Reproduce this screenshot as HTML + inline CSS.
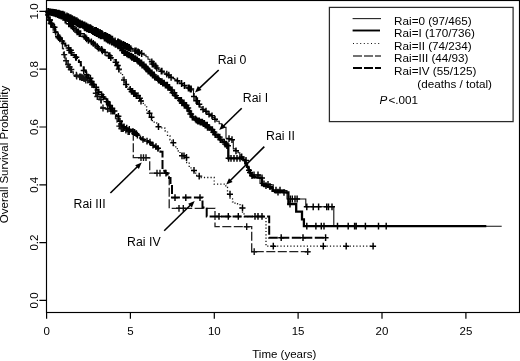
<!DOCTYPE html>
<html><head><meta charset="utf-8"><style>html,body{margin:0;padding:0;background:#fff;width:520px;height:361px;overflow:hidden}svg{display:block;font-family:"Liberation Sans",sans-serif;filter:blur(0.3px)}</style></head>
<body><svg width="520" height="361" viewBox="0 0 520 361"><rect width="520" height="361" fill="#fff"/><path d="M46.6 11.4 L46.6 11.6 L48.7 11.6 L48.7 12 L50.8 12 L50.8 12.4 L52.9 12.4 L52.9 12.8 L55 12.8 L55 13 L55 13.4 L56.8 13.4 L56.8 14.1 L58.5 14.1 L58.5 14.9 L60.2 14.9 L60.2 15.6 L62 15.6 L62 16 L62 17.4 L64 17.4 L64 20.1 L66 20.1 L66 21.5 L66 22.2 L67.8 22.2 L67.8 23.8 L69.5 23.8 L69.5 25.2 L71.2 25.2 L71.2 26.8 L73 26.8 L73 27.5 L73 28.4 L75 28.4 L75 30.1 L77 30.1 L77 31.9 L79 31.9 L79 33.6 L81 33.6 L81 34.5 L81 35.1 L82.8 35.1 L82.8 36.4 L84.5 36.4 L84.5 37.6 L86.2 37.6 L86.2 38.9 L88 38.9 L88 39.5 L88 40.2 L90 40.2 L90 41.8 L92 41.8 L92 43.2 L94 43.2 L94 44 L94 44.9 L96 44.9 L96 46.6 L98 46.6 L98 47.5 L98 48.2 L100 48.2 L100 49.5 L102 49.5 L102 50.8 L104 50.8 L104 51.5 L104 52.3 L106 52.3 L106 54 L108 54 L108 55.7 L110 55.7 L110 56.5 L110 57.7 L112.2 57.7 L112.2 60 L114.5 60 L114.5 62.3 L116.7 62.3 L116.7 63.5 L116.7 65.4 L118.8 65.4 L118.8 69.1 L120.8 69.1 L120.8 71 L120.8 73.8 L122.5 73.8 L122.5 76.7 L122.5 80 L125 80 L125 83.3 L125 84.5 L127.1 84.5 L127.1 87 L129.2 87 L129.2 88.3 L129.2 89.3 L131.2 89.3 L131.2 91.5 L133.3 91.5 L133.3 92.5 L133.3 93.5 L135.8 93.5 L135.8 95.7 L138.3 95.7 L138.3 96.7 L138.3 98.2 L140.8 98.2 L140.8 101 L143.3 101 L143.3 102.5 L143.3 104 L145 104 L145 106.8 L146.7 106.8 L146.7 108.3 L146.7 110 L148.3 110 L148.3 113.3 L150 113.3 L150 115 L150 117.2 L151.7 117.2 L151.7 119.5 L151.7 120.7 L154.2 120.7 L154.2 123 L156.7 123 L156.7 124.2 L156.7 125 L158.3 125 L158.3 126.7 L160 126.7 L160 127.5 L160 127.8 L162.5 127.8 L162.5 128.2 L165 128.2 L165 128.5 L165 130.9 L167.5 130.9 L167.5 135.9 L170 135.9 L170 138.3 L170 139.8 L171.7 139.8 L171.7 142.7 L173.3 142.7 L173.3 144.2 L173.3 145.6 L175.8 145.6 L175.8 148.6 L178.3 148.6 L178.3 150 L178.3 151.2 L180 151.2 L180 153.8 L181.7 153.8 L181.7 155 L181.7 155.8 L184.2 155.8 L184.2 157.5 L186.7 157.5 L186.7 158.3 L186.7 162.5 L189.2 162.5 L189.2 166.7 L189.2 167.9 L191.7 167.9 L191.7 170.4 L194.2 170.4 L194.2 171.7 L194.2 173.1 L196.7 173.1 L196.7 176.1 L199.2 176.1 L199.2 177.5 L214.2 177.5 L214.2 184.2 L225.8 184.2 L225.8 187.5 L227.5 187.5 L227.5 190.8 L227.5 194.2 L230 194.2 L230 197.5 L230 198.9 L232.5 198.9 L232.5 201.9 L235 201.9 L235 203.3 L235 203.7 L237.5 203.7 L237.5 204.6 L240 204.6 L240 205 L240 207.9 L242.5 207.9 L242.5 210.8 L242.5 213.8 L244 213.8 L244 216.7 L266 216.7 L266 246.2 L373.5 246.2" fill="none" stroke="#111" stroke-width="1.3" stroke-dasharray="1.2 2.1"/><path d="M52.1 13.4h6M55.1 10v6.8M56.1 14.9h6M59.1 11.5v6.8M56.2 14.9h6M59.2 11.5v6.8M56.2 14.9h6M59.2 11.5v6.8M60.6 17.4h6M63.6 14v6.8M62.2 20.1h6M65.2 16.7v6.8M62.8 20.1h6M65.8 16.7v6.8M65.7 23.8h6M68.7 20.4v6.8M66.2 23.8h6M69.2 20.4v6.8M68.1 25.2h6M71.1 21.9v6.8M69.7 26.8h6M72.7 23.4v6.8M70.7 28.4h6M73.7 25v6.8M73.2 30.1h6M76.2 26.7v6.8M74.1 31.9h6M77.1 28.5v6.8M74.6 31.9h6M77.6 28.5v6.8M75.4 31.9h6M78.4 28.5v6.8M76.3 33.6h6M79.3 30.2v6.8M76.3 33.6h6M79.3 30.2v6.8M76.6 33.6h6M79.6 30.2v6.8M77.3 33.6h6M80.3 30.2v6.8M77.6 33.6h6M80.6 30.2v6.8M81.2 36.4h6M84.2 33v6.8M82.7 37.6h6M85.7 34.2v6.8M83.6 38.9h6M86.6 35.5v6.8M83.7 38.9h6M86.7 35.5v6.8M85.4 40.2h6M88.4 36.9v6.8M85.5 40.2h6M88.5 36.9v6.8M88.4 41.8h6M91.4 38.4v6.8M90.3 43.2h6M93.3 39.9v6.8M92.1 44.9h6M95.1 41.5v6.8M94.3 46.6h6M97.3 43.2v6.8M95.4 48.2h6M98.4 44.8v6.8M98.7 49.5h6M101.7 46.1v6.8M99.4 50.8h6M102.4 47.4v6.8M102.1 52.3h6M105.1 48.9v6.8M105.6 55.7h6M108.6 52.3v6.8M106.8 55.7h6M109.8 52.3v6.8M107.8 57.7h6M110.8 54.3v6.8M112.6 62.3h6M115.6 58.9v6.8M113.2 62.3h6M116.2 58.9v6.8M114.2 65.4h6M117.2 62v6.8M114.8 65.4h6M117.8 62v6.8M115.8 69.1h6M118.8 65.7v6.8M116 69.1h6M119 65.7v6.8M121 80h6M124 76.6v6.8M122.9 84.5h6M125.9 81.1v6.8M123.3 84.5h6M126.3 81.1v6.8M127.2 89.3h6M130.2 85.9v6.8M128.6 91.5h6M131.6 88v6.8M129 91.5h6M132 88v6.8M129 91.5h6M132 88v6.8M129.6 91.5h6M132.6 88v6.8M130.7 93.5h6M133.7 90.1v6.8M130.8 93.5h6M133.8 90.1v6.8M131.5 93.5h6M134.5 90.1v6.8M132 93.5h6M135 90.1v6.8M133.3 95.7h6M136.3 92.2v6.8M135 95.7h6M138 92.2v6.8M136.7 98.2h6M139.7 94.8v6.8M136.9 98.2h6M139.9 94.8v6.8M138 101h6M141 97.6v6.8M146.5 113.3h6M149.5 109.9v6.8M148.5 117.2h6M151.5 113.8v6.8M155.5 126.7h6M158.5 123.3v6.8M170.3 142.7h6M173.3 139.3v6.8M179 155.8h6M182 152.4v6.8M181 155.8h6M184 152.4v6.8M183.5 157.5h6M186.5 154.1v6.8M191 170.4h6M194 167v6.8M196.2 176.1h6M199.2 172.7v6.8M227 194.2h6M230 190.8v6.8M239.5 207.9h6M242.5 204.5v6.8M270.3 246.2h6M273.3 242.8v6.8M320.3 246.2h6M323.3 242.8v6.8M343.2 246.2h6M346.2 242.8v6.8M370.1 246.2h6M373.1 242.8v6.8" fill="none" stroke="#000" stroke-width="1.45"/><path d="M46.6 11.4 L46.6 14.9 L48.2 14.9 L48.2 18.3 L48.2 20 L50.2 20 L50.2 23.5 L52.3 23.5 L52.3 25.2 L52.3 27.3 L55.1 27.3 L55.1 29.4 L55.1 32.2 L57.9 32.2 L57.9 35 L57.9 37.7 L60.6 37.7 L60.6 40.4 L60.6 43.2 L62.5 43.2 L62.5 46 L62.5 48.5 L63.5 48.5 L63.5 51 L63.5 54.6 L65 54.6 L65 58.3 L65 60.8 L66.7 60.8 L66.7 63.3 L66.7 64.5 L68.3 64.5 L68.3 67 L70 67 L70 68.3 L70 69.5 L71.7 69.5 L71.7 72 L73.3 72 L73.3 73.3 L73.3 73.9 L75 73.9 L75 75.2 L76.7 75.2 L76.7 75.8 L76.7 76.2 L78.9 76.2 L78.9 76.9 L81.1 76.9 L81.1 77.6 L83.3 77.6 L83.3 78 L83.3 78.8 L85.7 78.8 L85.7 80.2 L88 80.2 L88 81 L88 82.2 L90.7 82.2 L90.7 83.3 L90.7 84.5 L92.3 84.5 L92.3 87 L94 87 L94 88.3 L94 90 L95.7 90 L95.7 93.3 L97.3 93.3 L97.3 95 L97.3 96.5 L99.2 96.5 L99.2 99.5 L101.2 99.5 L101.2 101 L101.2 108 L104.7 108 L104.7 108.3 L106.6 108.3 L106.6 109 L108.4 109 L108.4 109.7 L110.3 109.7 L110.3 110 L110.3 111 L112.2 111 L112.2 113 L114 113 L114 114 L114 115.5 L115.5 115.5 L115.5 118.5 L117 118.5 L117 120 L117 122.2 L119 122.2 L119 124.4 L119 126.1 L121 126.1 L121 127.8 L121 128.6 L123.5 128.6 L123.5 130.2 L126 130.2 L126 131 L126 131.2 L127.9 131.2 L127.9 131.6 L129.8 131.6 L129.8 132 L131.7 132 L131.7 132.2 L131.7 133.6 L133.3 133.6 L133.3 135 L133.3 157.7 L149.7 157.7 L149.7 173.2 L169.2 173.2 L169.2 208.3 L215 208.3 L215 226.7 L251.7 226.7 L251.7 251.7 L310 251.7" fill="none" stroke="#222" stroke-width="1.3" stroke-dasharray="9 2.5"/><path d="M45 14.9h6M48 11.5v6.8M46.8 20h6M49.8 16.6v6.8M47.7 23.5h6M50.7 20.1v6.8M50.2 27.3h6M53.2 23.9v6.8M52.6 32.2h6M55.6 28.8v6.8M52.7 32.2h6M55.7 28.8v6.8M55.6 37.7h6M58.6 34.3v6.8M56.7 37.7h6M59.7 34.3v6.8M61.2 54.6h6M64.2 51.2v6.8M63.1 60.8h6M66.1 57.4v6.8M65.1 64.5h6M68.1 61.1v6.8M65.9 67h6M68.9 63.6v6.8M66.7 67h6M69.7 63.6v6.8M67.8 69.5h6M70.8 66.1v6.8M68.3 69.5h6M71.3 66.1v6.8M73.4 75.2h6M76.4 71.8v6.8M73.7 76.2h6M76.7 72.8v6.8M76.7 76.9h6M79.7 73.5v6.8M77.9 76.9h6M80.9 73.5v6.8M78.6 77.6h6M81.6 74.2v6.8M79.7 77.6h6M82.7 74.2v6.8M79.8 77.6h6M82.8 74.2v6.8M82.5 78.8h6M85.5 75.3v6.8M82.8 80.2h6M85.8 76.8v6.8M84.8 80.2h6M87.8 76.8v6.8M87.3 82.2h6M90.3 78.8v6.8M89 84.5h6M92 81.1v6.8M92.8 93.3h6M95.8 89.9v6.8M94.3 96.5h6M97.3 93.1v6.8M97.9 99.5h6M100.9 96.1v6.8M104.6 109h6M107.6 105.6v6.8M108 111h6M111 107.6v6.8M116.3 126.1h6M119.3 122.7v6.8M117.5 126.1h6M120.5 122.7v6.8M118.3 128.6h6M121.3 125.2v6.8M119.5 128.6h6M122.5 125.2v6.8M120.2 128.6h6M123.2 125.2v6.8M122.9 130.2h6M125.9 126.8v6.8M125.1 131.6h6M128.1 128.2v6.8M126.3 131.6h6M129.3 128.2v6.8M81 78.8h6M84 75.3v6.8M100 108h6M103 104.6v6.8M138 157.7h6M141 154.3v6.8M140.5 157.7h6M143.5 154.3v6.8M143 157.7h6M146 154.3v6.8M154 173.2h6M157 169.8v6.8M157 173.2h6M160 169.8v6.8M176 208.3h6M179 204.9v6.8M180.3 208.3h6M183.3 204.9v6.8M243.7 226.7h6M246.7 223.3v6.8M251.2 251.7h6M254.2 248.3v6.8M304.7 251.7h6M307.7 248.3v6.8" fill="none" stroke="#111" stroke-width="1.4"/><path d="M46.6 11.4 L46.6 14.9 L48.2 14.9 L48.2 18.3 L48.2 20 L50.2 20 L50.2 23.5 L52.3 23.5 L52.3 25.2 L52.3 27.3 L55.1 27.3 L55.1 29.4 L55.1 32.2 L57.9 32.2 L57.9 35 L57.9 36.4 L59.2 36.4 L59.2 37.7 L59.2 38.8 L61.2 38.8 L61.2 41.1 L63.3 41.1 L63.3 43.4 L65.3 43.4 L65.3 44.5 L65.3 45.7 L67.2 45.7 L67.2 48 L69.2 48 L69.2 50.3 L71.1 50.3 L71.1 51.5 L71.1 52.7 L73.1 52.7 L73.1 55 L75 55 L75 57.3 L77 57.3 L77 58.5 L77 59.6 L78.9 59.6 L78.9 61.9 L80.8 61.9 L80.8 63 L80.8 65.5 L83.7 65.5 L83.7 68 L83.7 70.5 L85.7 70.5 L85.7 73 L85.7 74.8 L88.1 74.8 L88.1 78.2 L90.5 78.2 L90.5 80 L90.5 81.5 L92.5 81.5 L92.5 84.5 L94.4 84.5 L94.4 86 L94.4 87.2 L96.3 87.2 L96.3 89.8 L98.3 89.8 L98.3 92.2 L100.2 92.2 L100.2 93.5 L100.2 94.6 L102.1 94.6 L102.1 96.9 L104 96.9 L104 98 L104 98.8 L106 98.8 L106 99.7 L106 101.6 L108.2 101.6 L108.2 105.4 L110.3 105.4 L110.3 107.3 L110.3 108.5 L112.3 108.5 L112.3 111 L114.4 111 L114.4 112.2 L114.4 113.6 L116.5 113.6 L116.5 116.3 L118.6 116.3 L118.6 117.7 L118.6 121.2 L121.5 121.2 L121.5 124.6 L121.5 125.3 L123.5 125.3 L123.5 126.8 L125.5 126.8 L125.5 127.5 L125.5 128.2 L127.5 128.2 L127.5 129.5 L129.6 129.5 L129.6 130.2 L129.6 130.7 L131.4 130.7 L131.4 131.6 L133.2 131.6 L133.2 132.5 L135 132.5 L135 133 L135 133.8 L136.8 133.8 L136.8 135.2 L138.5 135.2 L138.5 136.8 L140.2 136.8 L140.2 138.2 L142 138.2 L142 139 L142 139.4 L144 139.4 L144 140.2 L146 140.2 L146 141.1 L148 141.1 L148 141.5 L148 142.2 L150.1 142.2 L150.1 143.8 L152.2 143.8 L152.2 145.2 L154.2 145.2 L154.2 146.8 L156.3 146.8 L156.3 147.5 L156.3 148.3 L158.4 148.3 L158.4 150 L160.4 150 L160.4 151.7 L162.5 151.7 L162.5 152.5 L162.5 169 L162.5 170.8 L165 170.8 L165 172.5 L165 173.1 L167 173.1 L167 174.4 L169 174.4 L169 175 L169 178 L170.5 178 L170.5 181 L170.5 184.2 L172 184.2 L172 187.5 L172 197.6 L202.5 197.6 L202.5 207.5 L206.7 207.5 L206.7 216.4 L269.2 216.4 L269.2 237.7 L325.6 237.7" fill="none" stroke="#000" stroke-width="2" stroke-dasharray="9 2.5"/><path d="M46 20h6M49 16.6v6.8M47 20h6M50 16.6v6.8M48.6 23.5h6M51.6 20.1v6.8M51.5 27.3h6M54.5 23.9v6.8M55 36.4h6M58 33v6.8M55.3 36.4h6M58.3 33v6.8M56.8 38.8h6M59.8 35.4v6.8M59.2 41.1h6M62.2 37.7v6.8M65.6 48h6M68.6 44.6v6.8M66.4 50.3h6M69.4 46.9v6.8M66.6 50.3h6M69.6 46.9v6.8M67.7 50.3h6M70.7 46.9v6.8M67.9 50.3h6M70.9 46.9v6.8M68.2 52.7h6M71.2 49.3v6.8M68.7 52.7h6M71.7 49.3v6.8M72.7 57.3h6M75.7 53.9v6.8M72.9 57.3h6M75.9 53.9v6.8M73.3 57.3h6M76.3 53.9v6.8M80.7 70.5h6M83.7 67.1v6.8M83.6 74.8h6M86.6 71.3v6.8M87.1 78.2h6M90.1 74.8v6.8M87.4 78.2h6M90.4 74.8v6.8M88.7 81.5h6M91.7 78.1v6.8M90.8 84.5h6M93.8 81.1v6.8M93.1 87.2h6M96.1 83.8v6.8M93.2 87.2h6M96.2 83.8v6.8M95.7 92.2h6M98.7 88.8v6.8M98.6 94.6h6M101.6 91.2v6.8M100.3 96.9h6M103.3 93.5v6.8M103.5 101.6h6M106.5 98.2v6.8M104.3 101.6h6M107.3 98.2v6.8M104.4 101.6h6M107.4 98.2v6.8M104.6 101.6h6M107.6 98.2v6.8M106.4 105.4h6M109.4 102v6.8M107.1 105.4h6M110.1 102v6.8M107.8 108.5h6M110.8 105.1v6.8M109.3 108.5h6M112.3 105.1v6.8M109.8 111h6M112.8 107.6v6.8M111.4 111h6M114.4 107.6v6.8M115.4 116.3h6M118.4 112.9v6.8M117 121.2h6M120 117.8v6.8M121 126.8h6M124 123.4v6.8M123.7 128.2h6M126.7 124.8v6.8M126.3 129.5h6M129.3 126.1v6.8M129.6 131.6h6M132.6 128.2v6.8M130.1 131.6h6M133.1 128.2v6.8M131.6 132.5h6M134.6 129.1v6.8M133.2 133.8h6M136.2 130.3v6.8M133.4 133.8h6M136.4 130.3v6.8M134.4 135.2h6M137.4 131.8v6.8M140 139.4h6M143 136v6.8M144 141.1h6M147 137.7v6.8M147 142.2h6M150 138.8v6.8M150 145.2h6M153 141.8v6.8M153 146.8h6M156 143.3v6.8M155 148.3h6M158 144.9v6.8M163 173.1h6M166 169.7v6.8M172 197.6h6M175 194.2v6.8M182.8 197.6h6M185.8 194.2v6.8M197 197.6h6M200 194.2v6.8M216 216.4h6M219 213v6.8M225.3 216.4h6M228.3 213v6.8M235.3 216.4h6M238.3 213v6.8M252 216.4h6M255 213v6.8M255 216.4h6M258 213v6.8M259 216.4h6M262 213v6.8M278.2 237.7h6M281.2 234.3v6.8M300 237.7h6M303 234.3v6.8M322.6 237.7h6M325.6 234.3v6.8" fill="none" stroke="#000" stroke-width="1.45"/><path d="M46.6 11.4 L46.6 11.5 L48.7 11.5 L48.7 11.8 L50.8 11.8 L50.8 12.1 L52.9 12.1 L52.9 12.4 L55 12.4 L55 12.5 L55 12.8 L57 12.8 L57 13.2 L59 13.2 L59 13.8 L61 13.8 L61 14.2 L63 14.2 L63 14.5 L63 14.9 L65 14.9 L65 15.8 L67 15.8 L67 16.8 L69 16.8 L69 17.6 L71 17.6 L71 18.6 L73 18.6 L73 19 L73 19.6 L75 19.6 L75 20.6 L77 20.6 L77 21.8 L79 21.8 L79 22.9 L81 22.9 L81 23.9 L83 23.9 L83 24.5 L83 24.9 L84.9 24.9 L84.9 25.9 L86.8 25.9 L86.8 26.8 L88.7 26.8 L88.7 27.6 L90.6 27.6 L90.6 28.6 L92.5 28.6 L92.5 29 L92.5 29.5 L94.4 29.5 L94.4 30.5 L96.3 30.5 L96.3 31.5 L98.2 31.5 L98.2 32.5 L100.2 32.5 L100.2 33.5 L102.1 33.5 L102.1 34.5 L104 34.5 L104 35 L104 35.5 L105.8 35.5 L105.8 36.4 L107.7 36.4 L107.7 37.3 L109.5 37.3 L109.5 38.2 L111.3 38.2 L111.3 39.1 L113.2 39.1 L113.2 40 L115 40 L115 40.5 L115 40.9 L116.8 40.9 L116.8 41.8 L118.5 41.8 L118.5 42.7 L120.2 42.7 L120.2 43.6 L122 43.6 L122 44 L122 44.5 L124 44.5 L124 45.5 L126 45.5 L126 46.5 L128 46.5 L128 47.5 L130 47.5 L130 48 L130 48.6 L132.2 48.6 L132.2 49.8 L134.5 49.8 L134.5 50.9 L136.7 50.9 L136.7 51.5 L136.7 51.9 L138.6 51.9 L138.6 52.7 L140.4 52.7 L140.4 53.5 L142.3 53.5 L142.3 54.3 L144.1 54.3 L144.1 55.1 L146 55.1 L146 55.5 L146 56.8 L148 56.8 L148 59.2 L150 59.2 L150 61.8 L152 61.8 L152 63 L152 64 L154.1 64 L154.1 66 L156.2 66 L156.2 68 L158.3 68 L158.3 69 L158.3 69.8 L160.5 69.8 L160.5 71.2 L162.8 71.2 L162.8 72.8 L165 72.8 L165 73.5 L165 74.1 L167 74.1 L167 75.2 L169 75.2 L169 76.3 L171 76.3 L171 77.4 L173 77.4 L173 78 L173 78.6 L174.8 78.6 L174.8 79.7 L176.5 79.7 L176.5 80.8 L178.2 80.8 L178.2 81.9 L180 81.9 L180 82.5 L180 83.5 L182.5 83.5 L182.5 85.5 L185 85.5 L185 86.5 L185 87 L187.1 87 L187.1 88 L189.2 88 L189.2 89 L191.4 89 L191.4 90 L193.5 90 L193.5 90.5 L193.5 94 L193.5 96.5 L196 96.5 L196 99 L196 100.8 L198 100.8 L198 104.2 L200 104.2 L200 106 L200 107.1 L202 107.1 L202 109.4 L204 109.4 L204 110.5 L204 111.2 L206 111.2 L206 112.8 L208 112.8 L208 114.2 L210 114.2 L210 115 L210 115.8 L212.2 115.8 L212.2 117.5 L214.5 117.5 L214.5 119.2 L216.7 119.2 L216.7 120 L216.7 121.2 L219.2 121.2 L219.2 123.8 L221.7 123.8 L221.7 125 L221.7 125.8 L223.8 125.8 L223.8 127.2 L226 127.2 L226 128 L226 138 L226 138.2 L227.8 138.2 L227.8 138.8 L229.7 138.8 L229.7 139.2 L231.5 139.2 L231.5 139.8 L233.3 139.8 L233.3 140 L233.3 148 L233.3 148.9 L235.7 148.9 L235.7 150.8 L238 150.8 L238 151.7 L238 152.8 L239.8 152.8 L239.8 154.8 L241.5 154.8 L241.5 156.9 L243.3 156.9 L243.3 158 L243.3 160.5 L246 160.5 L246 163 L246 164.8 L247.5 164.8 L247.5 168.2 L249 168.2 L249 170 L249 172.5 L251 172.5 L251 175 L260 175 L260 183.3 L260 183.4 L261.9 183.4 L261.9 183.7 L263.8 183.7 L263.8 183.9 L265.7 183.9 L265.7 184.2 L267.6 184.2 L267.6 184.4 L269.5 184.4 L269.5 184.6 L271.4 184.6 L271.4 184.9 L273.3 184.9 L273.3 185 L273.3 190 L273.3 190 L275.3 190 L275.3 190.1 L277.2 190.1 L277.2 190.2 L279.2 190.2 L279.2 190.2 L281.1 190.2 L281.1 190.3 L283.1 190.3 L283.1 190.4 L285 190.4 L285 190.5 L287 190.5 L287 190.5 L287 199 L305.8 199 L305.8 206.8 L333.8 206.8 L333.8 226.2 L501.7 226.2" fill="none" stroke="#111" stroke-width="1.1"/><path d="M45 11.5h6M48 8.1v6.8M45.4 11.5h6M48.4 8.1v6.8M47.1 11.8h6M50.1 8.4v6.8M47.1 11.8h6M50.1 8.4v6.8M47.3 11.8h6M50.3 8.4v6.8M47.5 11.8h6M50.5 8.4v6.8M48.4 12.1h6M51.4 8.7v6.8M48.6 12.1h6M51.6 8.7v6.8M49.3 12.1h6M52.3 8.7v6.8M49.8 12.1h6M52.8 8.7v6.8M50 12.4h6M53 9v6.8M50.3 12.4h6M53.3 9v6.8M50.4 12.4h6M53.4 9v6.8M50.5 12.4h6M53.5 9v6.8M50.6 12.4h6M53.6 9v6.8M50.7 12.4h6M53.7 9v6.8M50.8 12.4h6M53.8 9v6.8M51.2 12.4h6M54.2 9v6.8M51.4 12.4h6M54.4 9v6.8M51.7 12.4h6M54.7 9v6.8M52.4 12.8h6M55.4 9.3v6.8M52.9 12.8h6M55.9 9.3v6.8M53.3 12.8h6M56.3 9.3v6.8M54.3 13.2h6M57.3 9.8v6.8M54.4 13.2h6M57.4 9.8v6.8M54.5 13.2h6M57.5 9.8v6.8M55.8 13.2h6M58.8 9.8v6.8M55.8 13.2h6M58.8 9.8v6.8M55.9 13.2h6M58.9 9.8v6.8M56.3 13.8h6M59.3 10.3v6.8M56.4 13.8h6M59.4 10.3v6.8M56.9 13.8h6M59.9 10.3v6.8M58.3 14.2h6M61.3 10.8v6.8M58.5 14.2h6M61.5 10.8v6.8M58.7 14.2h6M61.7 10.8v6.8M58.9 14.2h6M61.9 10.8v6.8M58.9 14.2h6M61.9 10.8v6.8M58.9 14.2h6M61.9 10.8v6.8M59 14.2h6M62 10.8v6.8M59.9 14.2h6M62.9 10.8v6.8M59.9 14.2h6M62.9 10.8v6.8M60.4 14.9h6M63.4 11.5v6.8M60.5 14.9h6M63.5 11.5v6.8M61.2 14.9h6M64.2 11.5v6.8M61.6 14.9h6M64.6 11.5v6.8M63.9 15.8h6M66.9 12.4v6.8M64.2 16.8h6M67.2 13.3v6.8M65.5 16.8h6M68.5 13.3v6.8M65.5 16.8h6M68.5 13.3v6.8M66.3 17.6h6M69.3 14.2v6.8M66.5 17.6h6M69.5 14.2v6.8M67.5 17.6h6M70.5 14.2v6.8M67.8 17.6h6M70.8 14.2v6.8M68.2 18.6h6M71.2 15.2v6.8M69 18.6h6M72 15.2v6.8M69.2 18.6h6M72.2 15.2v6.8M69.4 18.6h6M72.4 15.2v6.8M70.6 19.6h6M73.6 16.2v6.8M71.2 19.6h6M74.2 16.2v6.8M71.5 19.6h6M74.5 16.2v6.8M71.6 19.6h6M74.6 16.2v6.8M72.6 20.6h6M75.6 17.2v6.8M73.4 20.6h6M76.4 17.2v6.8M73.9 20.6h6M76.9 17.2v6.8M73.9 20.6h6M76.9 17.2v6.8M74.8 21.8h6M77.8 18.4v6.8M75.3 21.8h6M78.3 18.4v6.8M76.3 22.9h6M79.3 19.5v6.8M76.5 22.9h6M79.5 19.5v6.8M77 22.9h6M80 19.5v6.8M78 23.9h6M81 20.6v6.8M78.5 23.9h6M81.5 20.6v6.8M78.5 23.9h6M81.5 20.6v6.8M78.6 23.9h6M81.6 20.6v6.8M78.7 23.9h6M81.7 20.6v6.8M79 23.9h6M82 20.6v6.8M79.3 23.9h6M82.3 20.6v6.8M80.5 24.9h6M83.5 21.6v6.8M81 24.9h6M84 21.6v6.8M81.1 24.9h6M84.1 21.6v6.8M81.5 24.9h6M84.5 21.6v6.8M81.7 24.9h6M84.7 21.6v6.8M83.2 25.9h6M86.2 22.5v6.8M83.5 25.9h6M86.5 22.5v6.8M83.5 25.9h6M86.5 22.5v6.8M84.1 26.8h6M87.1 23.4v6.8M84.3 26.8h6M87.3 23.4v6.8M84.9 26.8h6M87.9 23.4v6.8M86.3 27.6h6M89.3 24.2v6.8M86.7 27.6h6M89.7 24.2v6.8M87 27.6h6M90 24.2v6.8M87.5 27.6h6M90.5 24.2v6.8M87.9 28.6h6M90.9 25.2v6.8M88.6 28.6h6M91.6 25.2v6.8M89.5 29.5h6M92.5 26.1v6.8M89.6 29.5h6M92.6 26.1v6.8M90 29.5h6M93 26.1v6.8M91.7 30.5h6M94.7 27.1v6.8M92.4 30.5h6M95.4 27.1v6.8M93.3 30.5h6M96.3 27.1v6.8M93.6 31.5h6M96.6 28.1v6.8M93.6 31.5h6M96.6 28.1v6.8M94 31.5h6M97 28.1v6.8M94.3 31.5h6M97.3 28.1v6.8M95 31.5h6M98 28.1v6.8M95.4 32.5h6M98.4 29.1v6.8M95.5 32.5h6M98.5 29.1v6.8M97.1 32.5h6M100.1 29.1v6.8M97.7 33.5h6M100.7 30.1v6.8M97.8 33.5h6M100.8 30.1v6.8M98.1 33.5h6M101.1 30.1v6.8M98.4 33.5h6M101.4 30.1v6.8M98.5 33.5h6M101.5 30.1v6.8M98.9 33.5h6M101.9 30.1v6.8M99.2 34.5h6M102.2 31.1v6.8M99.7 34.5h6M102.7 31.1v6.8M101.5 35.5h6M104.5 32.1v6.8M101.8 35.5h6M104.8 32.1v6.8M102.7 35.5h6M105.7 32.1v6.8M103.4 36.4h6M106.4 33v6.8M103.8 36.4h6M106.8 33v6.8M104.5 36.4h6M107.5 33v6.8M104.9 37.3h6M107.9 33.9v6.8M106.1 37.3h6M109.1 33.9v6.8M106.5 37.3h6M109.5 33.9v6.8M106.5 38.2h6M109.5 34.8v6.8M107.2 38.2h6M110.2 34.8v6.8M107.6 38.2h6M110.6 34.8v6.8M108.5 39.1h6M111.5 35.7v6.8M109 39.1h6M112 35.7v6.8M109.1 39.1h6M112.1 35.7v6.8M109.3 39.1h6M112.3 35.7v6.8M109.5 39.1h6M112.5 35.7v6.8M112.1 40.9h6M115.1 37.5v6.8M114.7 41.8h6M117.7 38.4v6.8M115.3 41.8h6M118.3 38.4v6.8M115.7 42.7h6M118.7 39.3v6.8M116 42.7h6M119 39.3v6.8M116.7 42.7h6M119.7 39.3v6.8M116.8 42.7h6M119.8 39.3v6.8M118.1 43.6h6M121.1 40.2v6.8M118.4 43.6h6M121.4 40.2v6.8M120.1 44.5h6M123.1 41.1v6.8M120.4 44.5h6M123.4 41.1v6.8M120.6 44.5h6M123.6 41.1v6.8M121.1 45.5h6M124.1 42.1v6.8M121.3 45.5h6M124.3 42.1v6.8M122.3 45.5h6M125.3 42.1v6.8M123.1 46.5h6M126.1 43.1v6.8M124 46.5h6M127 43.1v6.8M124.4 46.5h6M127.4 43.1v6.8M124.5 46.5h6M127.5 43.1v6.8M125.2 47.5h6M128.2 44.1v6.8M125.4 47.5h6M128.4 44.1v6.8M125.5 47.5h6M128.5 44.1v6.8M125.5 47.5h6M128.5 44.1v6.8M125.5 47.5h6M128.5 44.1v6.8M126.3 47.5h6M129.3 44.1v6.8M126.3 47.5h6M129.3 44.1v6.8M127.8 48.6h6M130.8 45.2v6.8M131.9 50.9h6M134.9 47.5v6.8M132.2 50.9h6M135.2 47.5v6.8M132.5 50.9h6M135.5 47.5v6.8M132.7 50.9h6M135.7 47.5v6.8M133.1 50.9h6M136.1 47.5v6.8M134.8 51.9h6M137.8 48.5v6.8M135 51.9h6M138 48.5v6.8M135.2 51.9h6M138.2 48.5v6.8M136.4 52.7h6M139.4 49.3v6.8M136.4 52.7h6M139.4 49.3v6.8M138.7 53.5h6M141.7 50.1v6.8M138.7 53.5h6M141.7 50.1v6.8M148.8 61.8h6M151.8 58.4v6.8M149.3 64h6M152.3 60.6v6.8M150.2 64h6M153.2 60.6v6.8M150.6 64h6M153.6 60.6v6.8M150.6 64h6M153.6 60.6v6.8M152.6 66h6M155.6 62.6v6.8M153.8 68h6M156.8 64.6v6.8M158.3 71.2h6M161.3 67.8v6.8M158.9 71.2h6M161.9 67.8v6.8M163.8 74.1h6M166.8 70.7v6.8M165.8 75.2h6M168.8 71.8v6.8M168.1 77.4h6M171.1 74v6.8M174.4 80.8h6M177.4 77.4v6.8M178.6 83.5h6M181.6 80.1v6.8M181.4 85.5h6M184.4 82.1v6.8M185.4 88h6M188.4 84.6v6.8M185.7 88h6M188.7 84.6v6.8M186.1 88h6M189.1 84.6v6.8M187.4 89h6M190.4 85.6v6.8M188.2 89h6M191.2 85.6v6.8M191 96.5h6M194 93.1v6.8M193.2 100.8h6M196.2 97.3v6.8M194.3 100.8h6M197.3 97.3v6.8M194.4 100.8h6M197.4 97.3v6.8M196.1 104.2h6M199.1 100.8v6.8M196.3 104.2h6M199.3 100.8v6.8M200 109.4h6M203 106v6.8M203 111.2h6M206 107.8v6.8M206 114.2h6M209 110.8v6.8M209 115.8h6M212 112.4v6.8M212 119.2h6M215 115.8v6.8M226 138.8h6M229 135.3v6.8M229 139.8h6M232 136.3v6.8M233 150.8h6M236 147.4v6.8M238.7 156.9h6M241.7 153.5v6.8M243 160.5h6M246 157.1v6.8M247 172.5h6M250 169.1v6.8M251 175h6M254 171.6v6.8M255 175h6M258 171.6v6.8M261 183.9h6M264 180.5v6.8M265 184.4h6M268 181v6.8M273 190.1h6M276 186.7v6.8M277 190.2h6M280 186.8v6.8M287.3 199h6M290.3 195.6v6.8M289.3 199h6M292.3 195.6v6.8M292 199h6M295 195.6v6.8M294.1 199h6M297.1 195.6v6.8M303.8 206.8h6M306.8 203.4v6.8M310.2 206.8h6M313.2 203.4v6.8M315.6 206.8h6M318.6 203.4v6.8M323.7 206.8h6M326.7 203.4v6.8M325.5 206.8h6M328.5 203.4v6.8M329 206.8h6M332 203.4v6.8M334.5 226.2h6M337.5 222.8v6.8M345.2 226.2h6M348.2 222.8v6.8M351.6 226.2h6M354.6 222.8v6.8M353.2 226.2h6M356.2 222.8v6.8M362.4 226.2h6M365.4 222.8v6.8M375.5 226.2h6M378.5 222.8v6.8M383.2 226.2h6M386.2 222.8v6.8" fill="none" stroke="#000" stroke-width="1.45"/><path d="M46.6 11.4 L46.6 11.7 L48.7 11.7 L48.7 12.2 L50.8 12.2 L50.8 12.7 L52.9 12.7 L52.9 13.2 L55 13.2 L55 13.5 L55 13.9 L57 13.9 L57 14.6 L59 14.6 L59 15.4 L61 15.4 L61 16.1 L63 16.1 L63 16.5 L63 16.9 L65 16.9 L65 17.9 L67 17.9 L67 18.8 L69 18.8 L69 19.6 L71 19.6 L71 20.6 L73 20.6 L73 21 L73 21.6 L75 21.6 L75 22.6 L77 22.6 L77 23.8 L79 23.8 L79 24.9 L81 24.9 L81 25.9 L83 25.9 L83 26.5 L83 26.9 L84.9 26.9 L84.9 27.9 L86.8 27.9 L86.8 28.8 L88.7 28.8 L88.7 29.6 L90.6 29.6 L90.6 30.6 L92.5 30.6 L92.5 31 L92.5 31.5 L94.4 31.5 L94.4 32.6 L96.3 32.6 L96.3 33.7 L98.2 33.7 L98.2 34.8 L100.2 34.8 L100.2 35.9 L102.1 35.9 L102.1 37 L104 37 L104 37.5 L104 38 L105.8 38 L105.8 39 L107.7 39 L107.7 40 L109.5 40 L109.5 41 L111.3 41 L111.3 42 L113.2 42 L113.2 43 L115 43 L115 43.5 L115 44.2 L117.5 44.2 L117.5 45.8 L120 45.8 L120 46.5 L120 47.9 L122 47.9 L122 50.6 L124 50.6 L124 52 L124 52.6 L125.9 52.6 L125.9 53.8 L127.8 53.8 L127.8 54.9 L129.8 54.9 L129.8 56.1 L131.7 56.1 L131.7 56.7 L131.7 57.4 L133.8 57.4 L133.8 58.7 L135.8 58.7 L135.8 60 L137.9 60 L137.9 61.3 L140 61.3 L140 62 L140 63 L142 63 L142 65 L144 65 L144 67 L146 67 L146 69 L148 69 L148 70 L148 71 L150.2 71 L150.2 73 L152.3 73 L152.3 75 L154.5 75 L154.5 77 L156.7 77 L156.7 78 L156.7 78.8 L158.3 78.8 L158.3 80.2 L160 80.2 L160 81 L160 81.8 L162.5 81.8 L162.5 83.2 L165 83.2 L165 84 L165 85.1 L167.5 85.1 L167.5 87.4 L170 87.4 L170 88.5 L170 89.9 L172.2 89.9 L172.2 92.8 L174.5 92.8 L174.5 95.6 L176.7 95.6 L176.7 97 L176.7 98.2 L179.2 98.2 L179.2 100.5 L181.7 100.5 L181.7 101.7 L181.7 102.9 L184.2 102.9 L184.2 105.3 L186.7 105.3 L186.7 106.5 L186.7 108 L188.3 108 L188.3 111 L190 111 L190 112.5 L190 114 L191.7 114 L191.7 117 L193.3 117 L193.3 118.5 L193.3 119 L195.5 119 L195.5 120 L197.8 120 L197.8 121 L200 121 L200 121.5 L200 122.2 L202.5 122.2 L202.5 123.5 L205 123.5 L205 124.2 L205 125.2 L207.5 125.2 L207.5 127.3 L210 127.3 L210 128.3 L210 129.6 L212.5 129.6 L212.5 132.1 L215 132.1 L215 133.3 L215 134.6 L217.5 134.6 L217.5 137.1 L220 137.1 L220 138.3 L220 139.6 L222.5 139.6 L222.5 142.1 L225 142.1 L225 143.3 L225 144.1 L226.7 144.1 L226.7 145.7 L228.3 145.7 L228.3 146.5 L228.3 158.3 L243.3 158.3 L243.3 160 L245.2 160 L245.2 163.3 L247 163.3 L247 165 L247 166.8 L248.5 166.8 L248.5 170.2 L250 170.2 L250 172 L250 173.2 L251.5 173.2 L251.5 175.8 L253 175.8 L253 177 L253 177.1 L255.2 177.1 L255.2 177.4 L257.5 177.4 L257.5 177.6 L259.8 177.6 L259.8 177.9 L262 177.9 L262 178 L262 185 L262 185.2 L264 185.2 L264 185.8 L266 185.8 L266 186.2 L268 186.2 L268 186.8 L270 186.8 L270 187 L270 188.2 L272.5 188.2 L272.5 190.8 L275 190.8 L275 192 L275 192 L276.9 192 L276.9 192.1 L278.8 192.1 L278.8 192.2 L280.7 192.2 L280.7 192.2 L282.7 192.2 L282.7 192.3 L284.6 192.3 L284.6 192.4 L286.5 192.4 L286.5 192.5 L288.4 192.5 L288.4 192.5 L288.4 204 L296.2 204 L296.2 211.6 L302 211.6 L302 219.4 L303.9 219.4 L303.9 226.2 L486.3 226.2" fill="none" stroke="#000" stroke-width="2.3"/><path d="M45.4 11.7h6M48.4 8.3v6.8M46.3 12.2h6M49.3 8.8v6.8M46.4 12.2h6M49.4 8.8v6.8M46.7 12.2h6M49.7 8.8v6.8M46.7 12.2h6M49.7 8.8v6.8M46.7 12.2h6M49.7 8.8v6.8M46.8 12.2h6M49.8 8.8v6.8M48.6 12.7h6M51.6 9.3v6.8M49.6 12.7h6M52.6 9.3v6.8M50.3 13.2h6M53.3 9.8v6.8M50.9 13.2h6M53.9 9.8v6.8M51.1 13.2h6M54.1 9.8v6.8M51.7 13.2h6M54.7 9.8v6.8M51.7 13.2h6M54.7 9.8v6.8M51.7 13.2h6M54.7 9.8v6.8M52.7 13.9h6M55.7 10.5v6.8M52.8 13.9h6M55.8 10.5v6.8M53.2 13.9h6M56.2 10.5v6.8M54.6 14.6h6M57.6 11.2v6.8M54.8 14.6h6M57.8 11.2v6.8M54.8 14.6h6M57.8 11.2v6.8M55.1 14.6h6M58.1 11.2v6.8M56.2 15.4h6M59.2 12v6.8M56.7 15.4h6M59.7 12v6.8M56.9 15.4h6M59.9 12v6.8M56.9 15.4h6M59.9 12v6.8M57.1 15.4h6M60.1 12v6.8M57.1 15.4h6M60.1 12v6.8M57.6 15.4h6M60.6 12v6.8M58.2 16.1h6M61.2 12.7v6.8M58.4 16.1h6M61.4 12.7v6.8M58.7 16.1h6M61.7 12.7v6.8M58.9 16.1h6M61.9 12.7v6.8M59.2 16.1h6M62.2 12.7v6.8M59.9 16.1h6M62.9 12.7v6.8M59.9 16.1h6M62.9 12.7v6.8M60.6 16.9h6M63.6 13.5v6.8M60.9 16.9h6M63.9 13.5v6.8M61.4 16.9h6M64.4 13.5v6.8M61.4 16.9h6M64.4 13.5v6.8M61.8 16.9h6M64.8 13.5v6.8M62.4 17.9h6M65.4 14.5v6.8M63 17.9h6M66 14.5v6.8M63.6 17.9h6M66.6 14.5v6.8M64.4 18.8h6M67.4 15.3v6.8M65.2 18.8h6M68.2 15.3v6.8M66.9 19.6h6M69.9 16.2v6.8M67.1 19.6h6M70.1 16.2v6.8M67.1 19.6h6M70.1 16.2v6.8M67.9 19.6h6M70.9 16.2v6.8M68 20.6h6M71 17.2v6.8M68.2 20.6h6M71.2 17.2v6.8M68.8 20.6h6M71.8 17.2v6.8M68.9 20.6h6M71.9 17.2v6.8M68.9 20.6h6M71.9 17.2v6.8M69.4 20.6h6M72.4 17.2v6.8M69.6 20.6h6M72.6 17.2v6.8M69.9 20.6h6M72.9 17.2v6.8M70.5 21.6h6M73.5 18.2v6.8M71.7 21.6h6M74.7 18.2v6.8M72 21.6h6M75 18.2v6.8M73.1 22.6h6M76.1 19.2v6.8M73.7 22.6h6M76.7 19.2v6.8M74.3 23.8h6M77.3 20.4v6.8M75 23.8h6M78 20.4v6.8M75.5 23.8h6M78.5 20.4v6.8M75.6 23.8h6M78.6 20.4v6.8M76.2 24.9h6M79.2 21.5v6.8M76.2 24.9h6M79.2 21.5v6.8M76.5 24.9h6M79.5 21.5v6.8M76.9 24.9h6M79.9 21.5v6.8M77 24.9h6M80 21.5v6.8M77.2 24.9h6M80.2 21.5v6.8M77.5 24.9h6M80.5 21.5v6.8M81.2 26.9h6M84.2 23.6v6.8M81.4 26.9h6M84.4 23.6v6.8M81.6 26.9h6M84.6 23.6v6.8M81.9 27.9h6M84.9 24.5v6.8M82.2 27.9h6M85.2 24.5v6.8M83.5 27.9h6M86.5 24.5v6.8M83.7 27.9h6M86.7 24.5v6.8M83.8 28.8h6M86.8 25.4v6.8M84.1 28.8h6M87.1 25.4v6.8M84.7 28.8h6M87.7 25.4v6.8M84.8 28.8h6M87.8 25.4v6.8M84.9 28.8h6M87.9 25.4v6.8M85.5 28.8h6M88.5 25.4v6.8M85.5 28.8h6M88.5 25.4v6.8M85.7 28.8h6M88.7 25.4v6.8M85.8 29.6h6M88.8 26.2v6.8M86.6 29.6h6M89.6 26.2v6.8M86.7 29.6h6M89.7 26.2v6.8M87.2 29.6h6M90.2 26.2v6.8M88.6 30.6h6M91.6 27.2v6.8M88.7 30.6h6M91.7 27.2v6.8M89 30.6h6M92 27.2v6.8M89 30.6h6M92 27.2v6.8M89.8 31.5h6M92.8 28.1v6.8M90.5 31.5h6M93.5 28.1v6.8M91 31.5h6M94 28.1v6.8M91.2 31.5h6M94.2 28.1v6.8M91.5 32.6h6M94.5 29.2v6.8M91.6 32.6h6M94.6 29.2v6.8M91.7 32.6h6M94.7 29.2v6.8M92.1 32.6h6M95.1 29.2v6.8M92.1 32.6h6M95.1 29.2v6.8M92.4 32.6h6M95.4 29.2v6.8M92.7 32.6h6M95.7 29.2v6.8M93.2 32.6h6M96.2 29.2v6.8M93.4 33.7h6M96.4 30.3v6.8M93.5 33.7h6M96.5 30.3v6.8M93.9 33.7h6M96.9 30.3v6.8M94.1 33.7h6M97.1 30.3v6.8M95.5 34.8h6M98.5 31.4v6.8M95.7 34.8h6M98.7 31.4v6.8M95.9 34.8h6M98.9 31.4v6.8M96 34.8h6M99 31.4v6.8M96.1 34.8h6M99.1 31.4v6.8M96.2 34.8h6M99.2 31.4v6.8M96.5 34.8h6M99.5 31.4v6.8M96.5 34.8h6M99.5 31.4v6.8M96.7 34.8h6M99.7 31.4v6.8M97.5 35.9h6M100.5 32.5v6.8M98.7 35.9h6M101.7 32.5v6.8M99 35.9h6M102 32.5v6.8M101.4 38h6M104.4 34.6v6.8M102.4 38h6M105.4 34.6v6.8M103.4 39h6M106.4 35.6v6.8M103.5 39h6M106.5 35.6v6.8M104.8 40h6M107.8 36.6v6.8M105.1 40h6M108.1 36.6v6.8M105.5 40h6M108.5 36.6v6.8M105.7 40h6M108.7 36.6v6.8M105.8 40h6M108.8 36.6v6.8M106.6 41h6M109.6 37.6v6.8M108.3 41h6M111.3 37.6v6.8M108.3 41h6M111.3 37.6v6.8M108.7 42h6M111.7 38.6v6.8M109.3 42h6M112.3 38.6v6.8M109.4 42h6M112.4 38.6v6.8M110 42h6M113 38.6v6.8M110.9 43h6M113.9 39.6v6.8M111.4 43h6M114.4 39.6v6.8M111.7 43h6M114.7 39.6v6.8M111.7 43h6M114.7 39.6v6.8M112.4 44.2h6M115.4 40.9v6.8M114 44.2h6M117 40.9v6.8M114.9 45.8h6M117.9 42.4v6.8M114.9 45.8h6M117.9 42.4v6.8M116 45.8h6M119 42.4v6.8M116.7 45.8h6M119.7 42.4v6.8M117 45.8h6M120 42.4v6.8M117.1 47.9h6M120.1 44.5v6.8M117.2 47.9h6M120.2 44.5v6.8M117.5 47.9h6M120.5 44.5v6.8M117.6 47.9h6M120.6 44.5v6.8M118.5 47.9h6M121.5 44.5v6.8M118.6 47.9h6M121.6 44.5v6.8M118.7 47.9h6M121.7 44.5v6.8M118.7 47.9h6M121.7 44.5v6.8M119.2 50.6h6M122.2 47.2v6.8M120.3 50.6h6M123.3 47.2v6.8M120.3 50.6h6M123.3 47.2v6.8M121 52.6h6M124 49.2v6.8M121 52.6h6M124 49.2v6.8M121.6 52.6h6M124.6 49.2v6.8M121.6 52.6h6M124.6 49.2v6.8M121.8 52.6h6M124.8 49.2v6.8M122.3 52.6h6M125.3 49.2v6.8M123.8 53.8h6M126.8 50.4v6.8M124.4 53.8h6M127.4 50.4v6.8M125.2 54.9h6M128.2 51.5v6.8M125.6 54.9h6M128.6 51.5v6.8M126.2 54.9h6M129.2 51.5v6.8M127.5 56.1h6M130.5 52.7v6.8M128.2 56.1h6M131.2 52.7v6.8M128.2 56.1h6M131.2 52.7v6.8M128.7 56.1h6M131.7 52.7v6.8M128.7 57.4h6M131.7 54v6.8M128.9 57.4h6M131.9 54v6.8M128.9 57.4h6M131.9 54v6.8M129.4 57.4h6M132.4 54v6.8M129.6 57.4h6M132.6 54v6.8M130.3 57.4h6M133.3 54v6.8M130.9 58.7h6M133.9 55.3v6.8M131 58.7h6M134 55.3v6.8M131.3 58.7h6M134.3 55.3v6.8M131.6 58.7h6M134.6 55.3v6.8M131.7 58.7h6M134.7 55.3v6.8M131.8 58.7h6M134.8 55.3v6.8M132.1 58.7h6M135.1 55.3v6.8M132.6 58.7h6M135.6 55.3v6.8M134 60h6M137 56.6v6.8M134.3 60h6M137.3 56.6v6.8M134.4 60h6M137.4 56.6v6.8M134.4 60h6M137.4 56.6v6.8M135.2 61.3h6M138.2 57.9v6.8M135.4 61.3h6M138.4 57.9v6.8M135.6 61.3h6M138.6 57.9v6.8M136.1 61.3h6M139.1 57.9v6.8M137.1 63h6M140.1 59.6v6.8M137.3 63h6M140.3 59.6v6.8M137.3 63h6M140.3 59.6v6.8M137.4 63h6M140.4 59.6v6.8M138.1 63h6M141.1 59.6v6.8M138.6 63h6M141.6 59.6v6.8M139 65h6M142 61.6v6.8M139.2 65h6M142.2 61.6v6.8M139.8 65h6M142.8 61.6v6.8M140.8 65h6M143.8 61.6v6.8M140.9 65h6M143.9 61.6v6.8M141.9 67h6M144.9 63.6v6.8M142.5 67h6M145.5 63.6v6.8M142.9 67h6M145.9 63.6v6.8M143.4 69h6M146.4 65.6v6.8M143.7 69h6M146.7 65.6v6.8M144 69h6M147 65.6v6.8M144.6 69h6M147.6 65.6v6.8M145.1 71h6M148.1 67.6v6.8M146.4 71h6M149.4 67.6v6.8M147.7 73h6M150.7 69.6v6.8M148.7 73h6M151.7 69.6v6.8M148.9 73h6M151.9 69.6v6.8M149 73h6M152 69.6v6.8M149.5 75h6M152.5 71.6v6.8M149.7 75h6M152.7 71.6v6.8M149.8 75h6M152.8 71.6v6.8M150.3 75h6M153.3 71.6v6.8M150.5 75h6M153.5 71.6v6.8M151.2 75h6M154.2 71.6v6.8M151.7 77h6M154.7 73.6v6.8M154.9 78.8h6M157.9 75.3v6.8M155.1 78.8h6M158.1 75.3v6.8M155.5 80.2h6M158.5 76.8v6.8M155.9 80.2h6M158.9 76.8v6.8M156 80.2h6M159 76.8v6.8M157.7 81.8h6M160.7 78.3v6.8M157.8 81.8h6M160.8 78.3v6.8M158 81.8h6M161 78.3v6.8M158.8 81.8h6M161.8 78.3v6.8M159 81.8h6M162 78.3v6.8M159.7 83.2h6M162.7 79.8v6.8M159.9 83.2h6M162.9 79.8v6.8M160 83.2h6M163 79.8v6.8M160.7 83.2h6M163.7 79.8v6.8M160.8 83.2h6M163.8 79.8v6.8M160.9 83.2h6M163.9 79.8v6.8M161.2 83.2h6M164.2 79.8v6.8M161.2 83.2h6M164.2 79.8v6.8M162.4 85.1h6M165.4 81.7v6.8M163.2 85.1h6M166.2 81.7v6.8M163.4 85.1h6M166.4 81.7v6.8M164.2 85.1h6M167.2 81.7v6.8M164.4 85.1h6M167.4 81.7v6.8M164.4 85.1h6M167.4 81.7v6.8M164.9 87.4h6M167.9 84v6.8M165.4 87.4h6M168.4 84v6.8M166.4 87.4h6M169.4 84v6.8M168 89.9h6M171 86.5v6.8M169.1 89.9h6M172.1 86.5v6.8M169.5 92.8h6M172.5 89.3v6.8M171.3 92.8h6M174.3 89.3v6.8M171.4 92.8h6M174.4 89.3v6.8M172.1 95.6h6M175.1 92.2v6.8M173 95.6h6M176 92.2v6.8M177.1 100.5h6M180.1 97.1v6.8M177.5 100.5h6M180.5 97.1v6.8M177.6 100.5h6M180.6 97.1v6.8M178.3 100.5h6M181.3 97.1v6.8M178.4 100.5h6M181.4 97.1v6.8M178.8 102.9h6M181.8 99.5v6.8M179 102.9h6M182 99.5v6.8M179.7 102.9h6M182.7 99.5v6.8M180.1 102.9h6M183.1 99.5v6.8M180.8 102.9h6M183.8 99.5v6.8M181 102.9h6M184 99.5v6.8M181.3 105.3h6M184.3 101.9v6.8M181.5 105.3h6M184.5 101.9v6.8M182.2 105.3h6M185.2 101.9v6.8M182.3 105.3h6M185.3 101.9v6.8M182.4 105.3h6M185.4 101.9v6.8M182.4 105.3h6M185.4 101.9v6.8M182.8 105.3h6M185.8 101.9v6.8M183.5 105.3h6M186.5 101.9v6.8M184.1 108h6M187.1 104.6v6.8M184.2 108h6M187.2 104.6v6.8M184.6 108h6M187.6 104.6v6.8M185.2 108h6M188.2 104.6v6.8M186.2 111h6M189.2 107.6v6.8M187.3 114h6M190.3 110.6v6.8M188.1 114h6M191.1 110.6v6.8M189.3 117h6M192.3 113.6v6.8M189.6 117h6M192.6 113.6v6.8M189.7 117h6M192.7 113.6v6.8M192.5 119h6M195.5 115.6v6.8M193.4 120h6M196.4 116.6v6.8M193.5 120h6M196.5 116.6v6.8M193.5 120h6M196.5 116.6v6.8M194.8 121h6M197.8 117.6v6.8M194.9 121h6M197.9 117.6v6.8M196.2 121h6M199.2 117.6v6.8M196.3 121h6M199.3 117.6v6.8M197.3 122.2h6M200.3 118.8v6.8M197.5 122.2h6M200.5 118.8v6.8M197.8 122.2h6M200.8 118.8v6.8M198.3 122.2h6M201.3 118.8v6.8M198.5 122.2h6M201.5 118.8v6.8M198.5 122.2h6M201.5 118.8v6.8M199.3 122.2h6M202.3 118.8v6.8M199.4 122.2h6M202.4 118.8v6.8M200.3 123.5h6M203.3 120.1v6.8M201.4 123.5h6M204.4 120.1v6.8M202.2 125.2h6M205.2 121.8v6.8M202.6 125.2h6M205.6 121.8v6.8M203 125.2h6M206 121.8v6.8M203.3 125.2h6M206.3 121.8v6.8M203.6 125.2h6M206.6 121.8v6.8M203.7 125.2h6M206.7 121.8v6.8M203.9 125.2h6M206.9 121.8v6.8M204.3 125.2h6M207.3 121.8v6.8M204.5 127.3h6M207.5 123.9v6.8M206 127.3h6M209 123.9v6.8M208.8 129.6h6M211.8 126.2v6.8M209.4 129.6h6M212.4 126.2v6.8M210.1 132.1h6M213.1 128.7v6.8M210.8 132.1h6M213.8 128.7v6.8M210.8 132.1h6M213.8 128.7v6.8M211.4 132.1h6M214.4 128.7v6.8M212.1 134.6h6M215.1 131.2v6.8M212.2 134.6h6M215.2 131.2v6.8M212.2 134.6h6M215.2 131.2v6.8M212.6 134.6h6M215.6 131.2v6.8M212.7 134.6h6M215.7 131.2v6.8M215.3 137.1h6M218.3 133.7v6.8M216.1 137.1h6M219.1 133.7v6.8M216.8 137.1h6M219.8 133.7v6.8M217.3 139.6h6M220.3 136.2v6.8M217.4 139.6h6M220.4 136.2v6.8M217.4 139.6h6M220.4 136.2v6.8M217.8 139.6h6M220.8 136.2v6.8M221.3 142.1h6M224.3 138.7v6.8M222.1 144.1h6M225.1 140.7v6.8M222.7 144.1h6M225.7 140.7v6.8M223.6 144.1h6M226.6 140.7v6.8M223.9 145.7h6M226.9 142.3v6.8M224.1 145.7h6M227.1 142.3v6.8M224.5 145.7h6M227.5 142.3v6.8M224.8 145.7h6M227.8 142.3v6.8M225 145.7h6M228 142.3v6.8M225.6 158.3h6M228.6 154.9v6.8M228 158.3h6M231 154.9v6.8M231 158.3h6M234 154.9v6.8M234 158.3h6M237 154.9v6.8M237 158.3h6M240 154.9v6.8M246 170.2h6M249 166.8v6.8M249 175.8h6M252 172.3v6.8M259 177.9h6M262 174.5v6.8M263 185.8h6M266 182.3v6.8M267 186.8h6M270 183.3v6.8M275 192.1h6M278 188.7v6.8M281 192.3h6M284 188.9v6.8M287 204h6M290 200.6v6.8M303.8 226.2h6M306.8 222.8v6.8M312.9 226.2h6M315.9 222.8v6.8M318.3 226.2h6M321.3 222.8v6.8M321 226.2h6M324 222.8v6.8" fill="none" stroke="#000" stroke-width="1.45"/><rect x="46.5" y="0.5" width="473" height="312" fill="none" stroke="#000" stroke-width="1.15"/><path d="M46.6 312.5v6.3M130.4 312.5v6.3M214.3 312.5v6.3M298.1 312.5v6.3M382 312.5v6.3M465.9 312.5v6.3M39.4 300.4h7.2M39.4 242.6h7.2M39.4 184.8h7.2M39.4 127h7.2M39.4 69.2h7.2M39.4 11.4h7.2" stroke="#000" stroke-width="1.2" fill="none"/><g font-family="Liberation Sans, sans-serif" font-size="11.5" fill="#000"><text x="46.6" y="334.8" text-anchor="middle">0</text><text x="130.4" y="334.8" text-anchor="middle">5</text><text x="214.3" y="334.8" text-anchor="middle">10</text><text x="298.1" y="334.8" text-anchor="middle">15</text><text x="382" y="334.8" text-anchor="middle">20</text><text x="465.9" y="334.8" text-anchor="middle">25</text><text transform="translate(37.9 300.4) rotate(-90)" text-anchor="middle">0.0</text><text transform="translate(37.9 242.6) rotate(-90)" text-anchor="middle">0.2</text><text transform="translate(37.9 184.8) rotate(-90)" text-anchor="middle">0.4</text><text transform="translate(37.9 127) rotate(-90)" text-anchor="middle">0.6</text><text transform="translate(37.9 69.2) rotate(-90)" text-anchor="middle">0.8</text><text transform="translate(37.9 11.4) rotate(-90)" text-anchor="middle">1.0</text></g><text font-family="Liberation Sans, sans-serif" font-size="11.5" x="284.3" y="358.2" text-anchor="middle">Time (years)</text><text font-family="Liberation Sans, sans-serif" font-size="11.5" transform="translate(8.4 154.5) rotate(-90)" text-anchor="middle">Overall Survival Probability</text><line x1="218.7" y1="70" x2="199" y2="88.7" stroke="#000" stroke-width="1.6"/><path d="M195 92.5L197.9 86.1L201.5 89.9Z" fill="#000"/><line x1="241.7" y1="108.3" x2="223.2" y2="126.2" stroke="#000" stroke-width="1.6"/><path d="M219.2 130L222.1 123.6L225.7 127.4Z" fill="#000"/><line x1="264.3" y1="146.6" x2="230.1" y2="180.7" stroke="#000" stroke-width="1.6"/><path d="M226.2 184.6L229 178.2L232.6 181.9Z" fill="#000"/><line x1="110.4" y1="193" x2="137.8" y2="166.3" stroke="#000" stroke-width="1.6"/><path d="M141.7 162.5L138.9 168.9L135.2 165.2Z" fill="#000"/><line x1="164.2" y1="230.8" x2="190.8" y2="204.8" stroke="#000" stroke-width="1.6"/><path d="M194.7 201L191.9 207.4L188.2 203.7Z" fill="#000"/><text font-family="Liberation Sans, sans-serif" font-size="12.3" x="217.7" y="63.8">Rai 0</text><text font-family="Liberation Sans, sans-serif" font-size="12.3" x="242.8" y="102">Rai I</text><text font-family="Liberation Sans, sans-serif" font-size="12.3" x="266.1" y="140.4">Rai II</text><text font-family="Liberation Sans, sans-serif" font-size="12.3" x="73.5" y="208.2">Rai III</text><text font-family="Liberation Sans, sans-serif" font-size="12.3" x="127.1" y="245.5">Rai IV</text><rect x="329.4" y="7.4" width="183.7" height="114.2" fill="#fff" stroke="#2a2a2a" stroke-width="1.25"/><line x1="352.6" y1="18.6" x2="381" y2="18.6" stroke="#222" stroke-width="1.1"/><line x1="352.6" y1="30.5" x2="380" y2="30.5" stroke="#000" stroke-width="1.9"/><line x1="353" y1="43.5" x2="380" y2="43.5" stroke="#111" stroke-width="1.1" stroke-dasharray="1 2.6"/><line x1="353" y1="56" x2="381" y2="56" stroke="#444" stroke-width="1.3" stroke-dasharray="9 2"/><line x1="353" y1="68" x2="381" y2="68" stroke="#000" stroke-width="2" stroke-dasharray="9 2"/><text font-family="Liberation Sans, sans-serif" font-size="11.7" x="394.1" y="24.9">Rai=0 (97/465)</text><text font-family="Liberation Sans, sans-serif" font-size="11.7" x="394.1" y="37.3">Rai=I (170/736)</text><text font-family="Liberation Sans, sans-serif" font-size="11.7" x="394.1" y="49.7">Rai=II (74/234)</text><text font-family="Liberation Sans, sans-serif" font-size="11.7" x="394.1" y="62.1">Rai=III (44/93)</text><text font-family="Liberation Sans, sans-serif" font-size="11.7" x="394.1" y="74.5">Rai=IV (55/125)</text><text font-family="Liberation Sans, sans-serif" font-size="11.7" x="417.3" y="88.4">(deaths / total)</text><text font-family="Liberation Sans, sans-serif" font-size="11.7" x="379.4" y="104"><tspan font-style="italic">P</tspan><tspan dx="1.3">&lt;.001</tspan></text></svg></body></html>
